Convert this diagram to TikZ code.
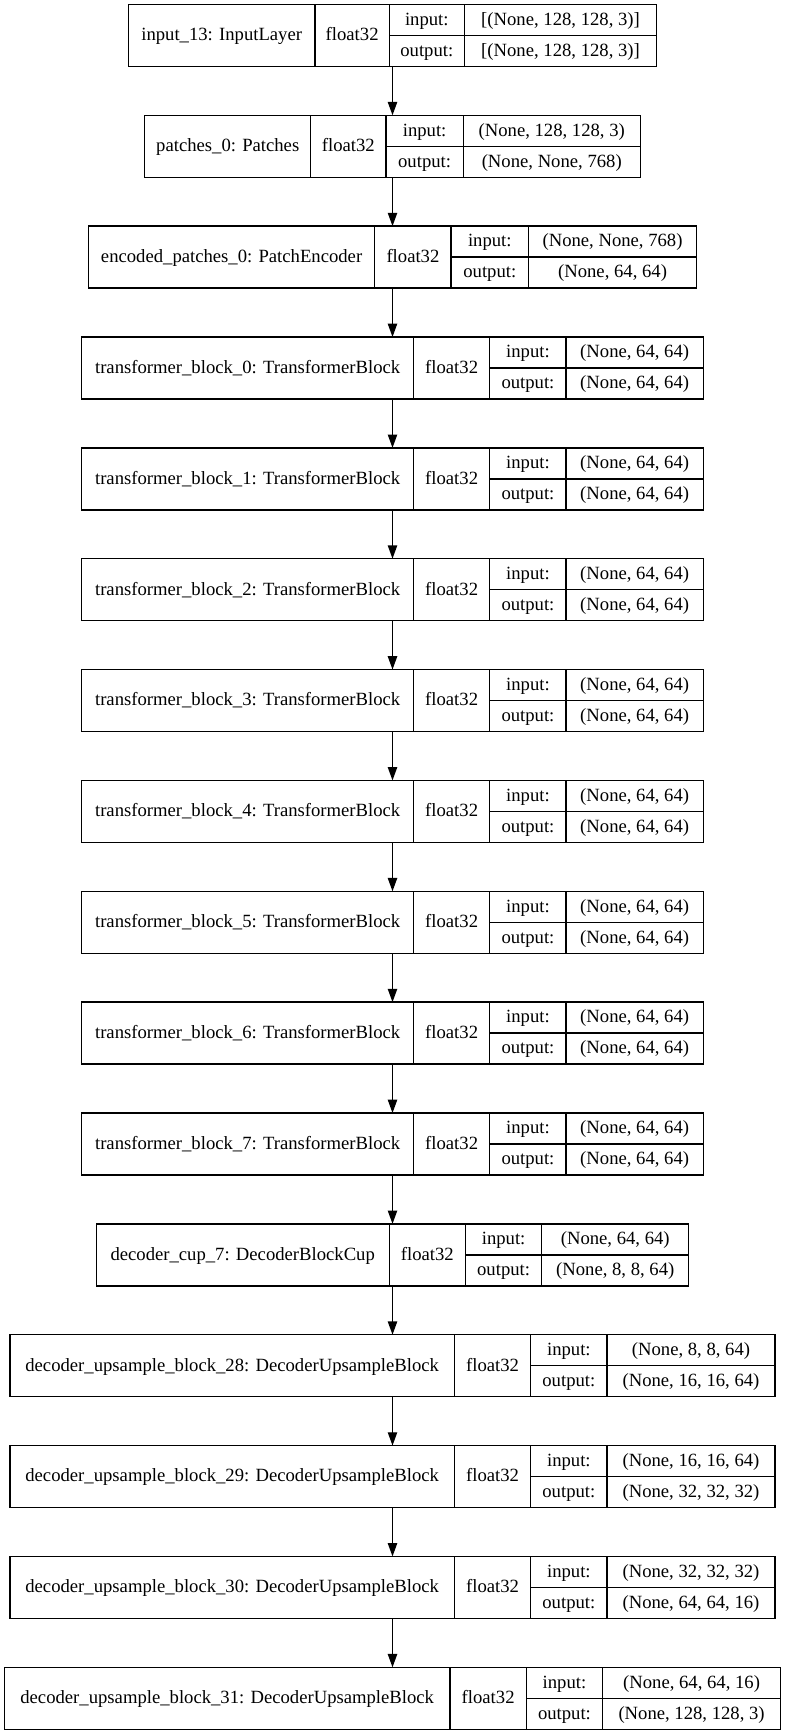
\documentclass[tikz,border=0pt]{standalone}
\usepackage{fontspec}
\setmainfont{Liberation Serif}
\usetikzlibrary{arrows.meta}

\tikzset{
  layerbox/.style={draw, line width=1pt, inner sep=0pt, outer sep=0pt},
  cell/.style={inner sep=0pt, font=\fontsize{14}{16}\selectfont,
               text height=8pt, text depth=0pt},
  divider/.style={line width=1pt},
  flow/.style={line width=1pt, -{Triangle[length=10pt,width=7pt]}}
}

% One Keras layer record: #1 index, #2 left edge, #3..#5 cell dividers,
% #6 layer label, #7 input shape, #8 output shape, #9 dtype
\newcommand{\kerasrow}[9]{%
  \pgfmathsetmacro\rowtop{4.4+110.86*#1}%
  \pgfmathsetmacro\rowbot{\rowtop+62}%
  \pgfmathsetmacro\rowmid{\rowtop+31}%
  \pgfmathsetmacro\rowup{\rowtop+15.5}%
  \pgfmathsetmacro\rowlo{\rowtop+46.5}%
  \pgfmathsetmacro\rowright{785-#2}%
  \pgfmathsetmacro\rowwidth{(\rowright-#2)*0.75}%
  \node[layerbox, minimum width=\rowwidth pt, minimum height=46.5pt]
    (L#1) at ({(#2+\rowright)/2},\rowmid) {};
  \draw[divider] (#3,\rowtop) -- (#3,\rowbot);
  \draw[divider] (#4,\rowtop) -- (#4,\rowbot);
  \draw[divider] (#5,\rowtop) -- (#5,\rowbot);
  \draw[divider] (#4,\rowmid) -- (\rowright,\rowmid);
  \node[cell] (L#1-name)  at ({(#2+#3)/2},\rowmid) {#6};
  \node[cell] (L#1-dtype) at ({(#3+#4)/2},\rowmid) {#9};
  \node[cell] (L#1-inl)   at ({(#4+#5)/2},\rowup) {input:};
  \node[cell] (L#1-outl)  at ({(#4+#5)/2},\rowlo) {output:};
  \node[cell] (L#1-in)    at ({(#5+\rowright)/2},\rowup) {#7};
  \node[cell] (L#1-out)   at ({(#5+\rowright)/2},\rowlo) {#8};
}

\begin{document}
\begin{tikzpicture}[x=0.75pt, y=-0.75pt]
  \useasboundingbox (0,0) rectangle (785,1733);

  \kerasrow{0}{128.3}{315.1}{389.2}{464.4}{input\_13: InputLayer}{[(None, 128, 128, 3)]}{[(None, 128, 128, 3)]}{float32}
  \kerasrow{1}{144.8}{310.7}{385.9}{463.3}{patches\_0: Patches}{(None, 128, 128, 3)}{(None, None, 768)}{float32}
  \kerasrow{2}{88.4}{374.8}{451.1}{528.5}{encoded\_patches\_0: PatchEncoder}{(None, None, 768)}{(None, 64, 64)}{float32}
  \kerasrow{3}{81.8}{413.5}{489.8}{566.1}{transformer\_block\_0: TransformerBlock}{(None, 64, 64)}{(None, 64, 64)}{float32}
  \kerasrow{4}{81.8}{413.5}{489.8}{566.1}{transformer\_block\_1: TransformerBlock}{(None, 64, 64)}{(None, 64, 64)}{float32}
  \kerasrow{5}{81.8}{413.5}{489.8}{566.1}{transformer\_block\_2: TransformerBlock}{(None, 64, 64)}{(None, 64, 64)}{float32}
  \kerasrow{6}{81.8}{413.5}{489.8}{566.1}{transformer\_block\_3: TransformerBlock}{(None, 64, 64)}{(None, 64, 64)}{float32}
  \kerasrow{7}{81.8}{413.5}{489.8}{566.1}{transformer\_block\_4: TransformerBlock}{(None, 64, 64)}{(None, 64, 64)}{float32}
  \kerasrow{8}{81.8}{413.5}{489.8}{566.1}{transformer\_block\_5: TransformerBlock}{(None, 64, 64)}{(None, 64, 64)}{float32}
  \kerasrow{9}{81.8}{413.5}{489.8}{566.1}{transformer\_block\_6: TransformerBlock}{(None, 64, 64)}{(None, 64, 64)}{float32}
  \kerasrow{10}{81.8}{413.5}{489.8}{566.1}{transformer\_block\_7: TransformerBlock}{(None, 64, 64)}{(None, 64, 64)}{float32}
  \kerasrow{11}{96.2}{389.2}{465.5}{541.7}{decoder\_cup\_7: DecoderBlockCup}{(None, 64, 64)}{(None, 8, 8, 64)}{float32}
  \kerasrow{12}{10.0}{454.4}{530.7}{607.0}{decoder\_upsample\_block\_28: DecoderUpsampleBlock}{(None, 8, 8, 64)}{(None, 16, 16, 64)}{float32}
  \kerasrow{13}{10.0}{454.4}{530.7}{607.0}{decoder\_upsample\_block\_29: DecoderUpsampleBlock}{(None, 16, 16, 64)}{(None, 32, 32, 32)}{float32}
  \kerasrow{14}{10.0}{454.4}{530.7}{607.0}{decoder\_upsample\_block\_30: DecoderUpsampleBlock}{(None, 32, 32, 32)}{(None, 64, 64, 16)}{float32}
  \kerasrow{15}{4.4}{450.0}{526.3}{602.6}{decoder\_upsample\_block\_31: DecoderUpsampleBlock}{(None, 64, 64, 16)}{(None, 128, 128, 3)}{float32}

  % data flow between consecutive layers
  \foreach \i [evaluate=\i as \j using int(\i+1)] in {0,...,14}
    \draw[flow] (L\i.south) -- (L\j.north);
\end{tikzpicture}
\end{document}
